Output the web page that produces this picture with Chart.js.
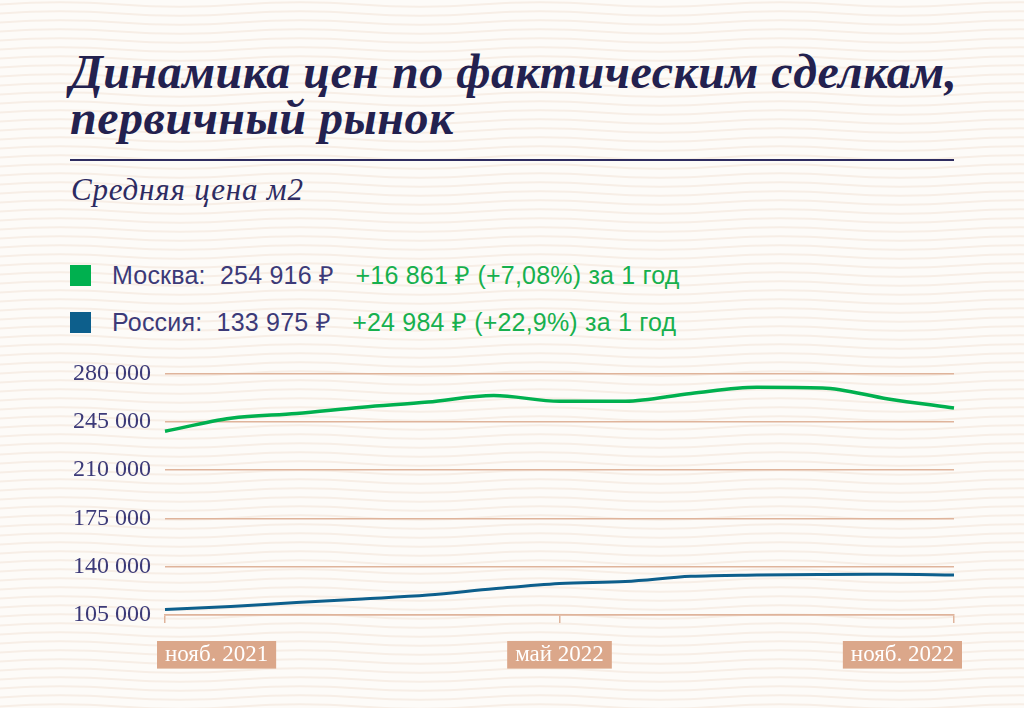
<!DOCTYPE html>
<html lang="ru">
<head>
<meta charset="utf-8">
<script src="https://cdn.jsdelivr.net/npm/chart.js@4"></script>
<style>
  html, body { margin: 0; padding: 0; }
  body {
    width: 1024px; height: 708px; position: relative; overflow: hidden;
    background-color: #fdfbf8;
    background-image: url("data:image/svg+xml;utf8,<svg xmlns='http://www.w3.org/2000/svg' width='240' height='9'><path d='M0 4.5 Q60 0 120 4.5 T240 4.5' fill='none' stroke='%23f7eee6' stroke-width='2.2'/></svg>");
  }
  #title {
    position: absolute; left: 70px; top: 49px; margin: 0;
    font-family: "Liberation Serif", serif; font-weight: bold; font-style: italic;
    font-size: 48px; line-height: 46px; color: #23214f; letter-spacing: 0.5px;
  }
  #rule { position: absolute; left: 70px; top: 159px; width: 884px; height: 2px; background: #2e2c60; }
  #subtitle {
    position: absolute; left: 71px; top: 172px;
    font-family: "Liberation Serif", serif; font-style: italic; font-size: 31px; color: #2d2b62; letter-spacing: 0.8px;
  }
  .leg { position: absolute; left: 70px; font-family: "Liberation Sans", sans-serif; font-size: 25px; color: #3c3a78; white-space: pre; letter-spacing: 0.2px; }
  .leg .sq { display: inline-block; width: 21px; height: 21px; margin-right: 21px; vertical-align: -2px; }
  .leg .chg { color: #17b04e; }
  #chartBox { position: absolute; left: 40px; top: 345px; width: 932px; height: 340px; }
</style>
</head>
<body>
<h1 id="title">Динамика цен по фактическим сделкам,<br>первичный рынок</h1>
<div id="rule"></div>
<div id="subtitle">Средняя цена м2</div>
<div id="legend"></div>
<div id="chartBox"><canvas id="myChart"></canvas></div>
<script>
const months = ['нояб. 2021', 'дек. 2021', 'янв. 2022', 'февр. 2022', 'март 2022', 'апр. 2022',
  'май 2022', 'июнь 2022', 'июль 2022', 'авг. 2022', 'сент. 2022', 'окт. 2022', 'нояб. 2022'];
const moscow = [238055, 247500, 251000, 255500, 259200, 264000, 259800, 259800, 265500, 270000, 269500, 261500, 254916];
const russia = [108991, 111200, 114000, 116600, 119400, 124000, 127900, 129300, 133000, 134000, 134400, 134500, 133975];
const seriesNames = ['Москва', 'Россия'];
const seriesColors = ['#00b04f', '#0d5f8c'];
const legendValues = ['254 916 ₽', '133 975 ₽'];
const legendChanges = ['+16 861 ₽ (+7,08%) за 1 год', '+24 984 ₽ (+22,9%) за 1 год'];
const yTicks = [105000, 140000, 175000, 210000, 245000, 280000];
const shownLabels = [0, 6, 12];

// легенда над графиком
const legend = document.getElementById('legend');
seriesNames.forEach((name, i) => {
  const row = document.createElement('div');
  row.className = 'leg';
  row.style.top = (257 + i * 47) + 'px';
  row.innerHTML = '<span class="sq" style="background:' + seriesColors[i] + '"></span>' +
    name + ':  ' + legendValues[i] + '   ' +
    '<span class="chg">' + legendChanges[i] + '</span>';
  legend.appendChild(row);
});

const fmt = v => String(v).replace(/\B(?=(\d{3})+(?!\d))/g, ' ');
const peach = '#dfb49b';

const ctx = document.getElementById('myChart');
new Chart(ctx, {
  type: 'line',
  data: {
    labels: months,
    datasets: [
      { label: seriesNames[0], data: moscow, borderColor: seriesColors[0], borderWidth: 3.5 },
      { label: seriesNames[1], data: russia, borderColor: seriesColors[1], borderWidth: 3 }
    ]
  },
  options: {
    responsive: true,
    maintainAspectRatio: false,
    animation: false,
    layout: { padding: { top: 0, right: 16, left: 0, bottom: 0 } },
    elements: { point: { radius: 0 }, line: { tension: 0.35, cubicInterpolationMode: 'monotone' } },
    plugins: { legend: { display: false }, tooltip: { enabled: false } },
    scales: {
      x: {
        offset: false,
        border: { display: true, color: peach, width: 1.5 },
        grid: { drawOnChartArea: false, drawTicks: true, tickLength: 8, color: peach, lineWidth: 1.5 },
        afterFit: s => { s.height = 70; },
        ticks: {
          autoSkip: false, maxRotation: 0, align: 'inner', padding: 18,
          color: '#ffffff',
          font: { family: 'Liberation Serif', size: 23 },
          showLabelBackdrop: true, backdropColor: '#dba78a',
          backdropPadding: { top: 0, bottom: 0, left: 8, right: 8 },
          callback: (v, i) => shownLabels.includes(i) ? months[i] : null
        }
      },
      y: {
        min: yTicks[0], max: yTicks[yTicks.length - 1],
        border: { display: false },
        grid: { color: peach, lineWidth: 1.5, drawTicks: false },
        afterFit: s => { s.width = 125; },
        afterBuildTicks: s => { s.ticks = yTicks.map(v => ({ value: v })); },
        ticks: {
          padding: 14, color: '#3c3a78',
          font: { family: 'Liberation Serif', size: 24 },
          callback: v => fmt(v)
        }
      }
    }
  }
});
</script>
</body>
</html>
